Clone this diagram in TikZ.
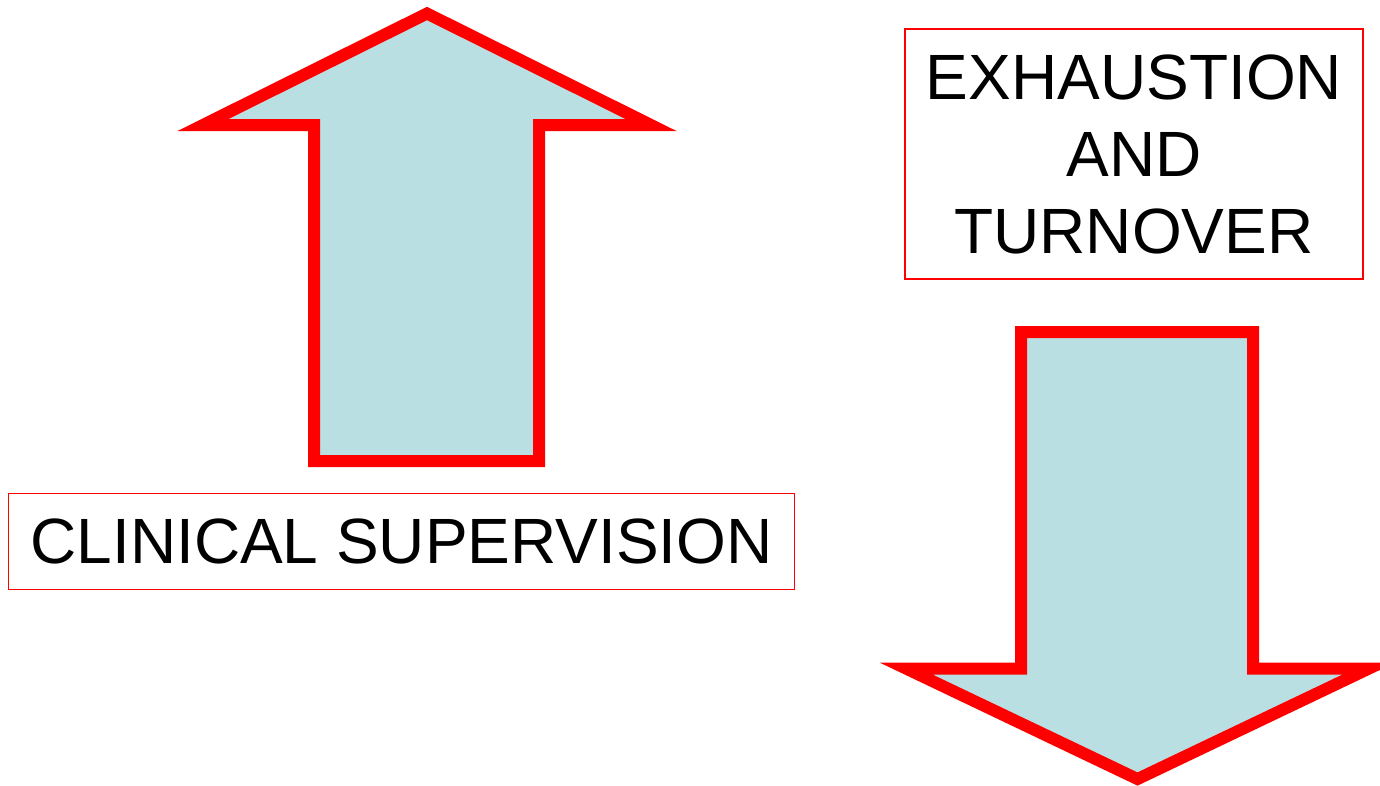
\documentclass[tikz,border=0pt]{standalone}
\usepackage{fontspec}
\setmainfont{Liberation Sans}
\begin{document}
\begin{tikzpicture}[x=1pt,y=-1pt,
  bigarrow/.style={draw=arrowred,line width=12,fill=arrowfill,line join=miter,miter limit=10},
  labelbox/.style={draw=arrowred,line width=1.6,inner sep=0pt,align=center,font=\fontsize{64}{77}\selectfont}]
\definecolor{arrowred}{RGB}{255,0,0}
\definecolor{arrowfill}{RGB}{186,223,226}
\useasboundingbox (0,0) rectangle (1380,785);
% up arrow
\draw[bigarrow] (427,13.5) -- (651,125) -- (539,125) -- (539,461) -- (314,461) -- (314,125) -- (203,125) -- cycle;
% down arrow
\draw[bigarrow] (1021,332) -- (1253,332) -- (1253,668.5) -- (1369,668.5) -- (1137.5,779) -- (906,668.5) -- (1021,668.5) -- cycle;
\node[labelbox,minimum width=786,minimum height=96] (clin) at (401.5,541.5) {CLINICAL SUPERVISION};
\node[labelbox,minimum width=458,minimum height=250] (exh) at (1134,154) {EXHAUSTION\\AND\\TURNOVER};
\end{tikzpicture}
\end{document}
